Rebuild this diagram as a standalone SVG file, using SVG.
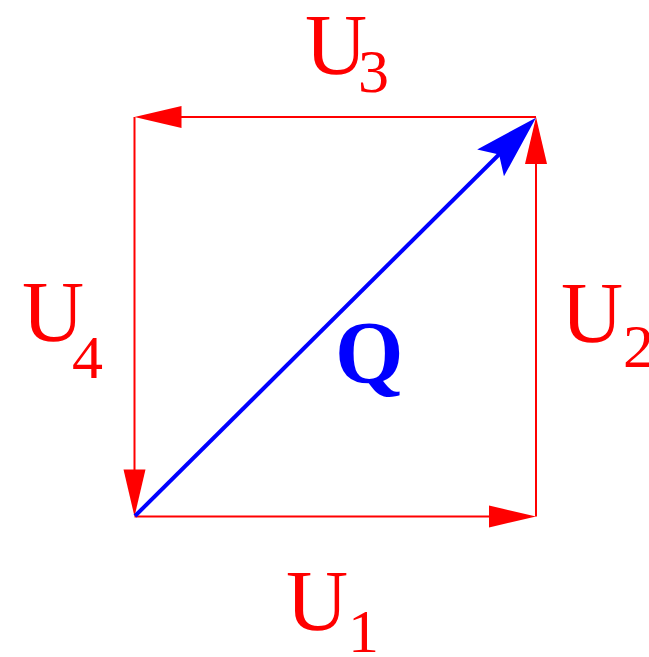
<svg xmlns="http://www.w3.org/2000/svg" width="649" height="657" viewBox="0 0 649 657">
<style>
  .red { stroke: #ff0000; stroke-width: 2; fill: none; marker-end: url(#redHead); }
  .blue { stroke: #0000ff; stroke-width: 4; fill: none; marker-end: url(#blueHead); }
  .lbl { font-family: "Liberation Serif", "Times New Roman", serif; fill: #ff0000; }
  .big { font-size: 86px; }
  .sub { font-size: 62px; }
  .q { font-family: "Liberation Serif", "Times New Roman", serif; font-weight: bold; font-size: 88px; fill: #0000ff; }
</style>
<defs>
  <marker id="redHead" markerUnits="userSpaceOnUse" orient="auto" refX="27" refY="0" markerWidth="50" markerHeight="24" overflow="visible">
    <path d="M0,-11 L47,0 L0,11 z" fill="#ff0000"/>
  </marker>
  <marker id="blueHead" markerUnits="userSpaceOnUse" orient="auto" refX="14" refY="0" markerWidth="70" markerHeight="40" overflow="visible">
    <path d="M0,-19 L64,0 L0,19 L12,0 z" fill="#0000ff"/>
  </marker>
</defs>
<g id="connectors">
  <path class="red" d="M134.5,516.5 L516,516.5"/>
  <path class="red" d="M536,516.5 L536,137"/>
  <path class="red" d="M536,117 L154.5,117"/>
  <path class="red" d="M134.5,117 L134.5,496.5"/>
  <path class="blue" d="M135,516 L500.5,153"/>
</g>
<g id="U1"><text class="lbl big" x="286" y="630">U</text><text class="lbl sub" x="348" y="652">1</text></g>
<g id="U2"><text class="lbl big" x="561" y="342">U</text><text class="lbl sub" x="623" y="367">2</text></g>
<g id="U3"><text class="lbl big" x="305" y="74">U</text><text class="lbl sub" x="358" y="92">3</text></g>
<g id="U4"><text class="lbl big" x="22" y="341">U</text><text class="lbl sub" x="72" y="378">4</text></g>
<g id="Q"><text class="q" x="335" y="382">Q</text></g>
</svg>
